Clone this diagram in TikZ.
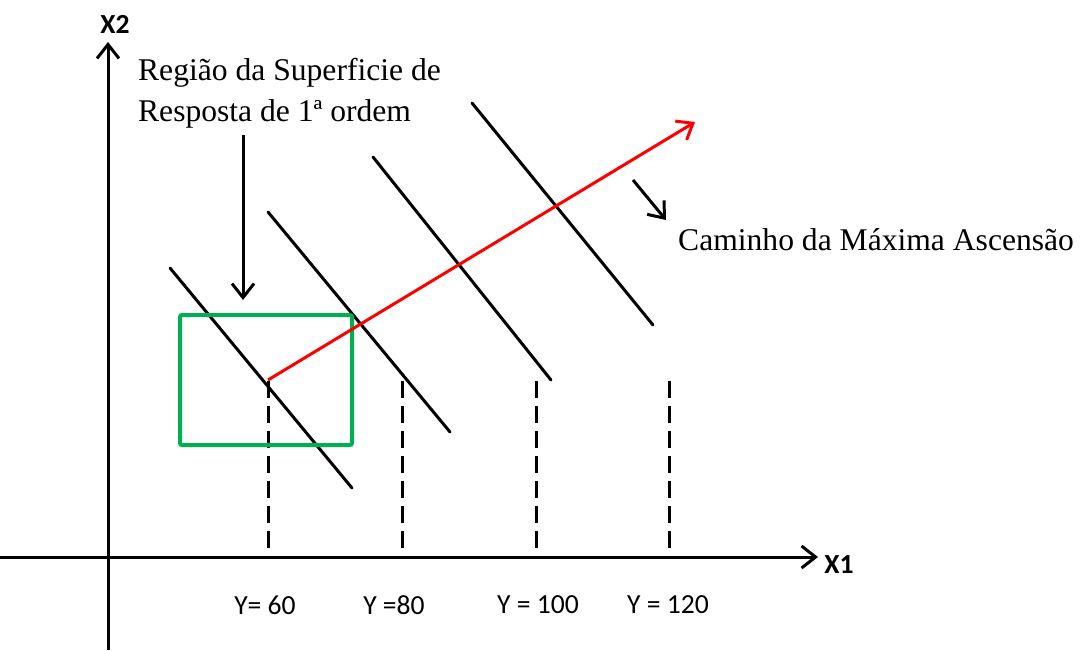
\documentclass[tikz,border=0pt]{standalone}
\usepackage{fontspec}
\setmainfont{Liberation Serif}
\newfontfamily\labelfont{Carlito}
\usetikzlibrary{arrows.meta,positioning}
\definecolor{regiongreen}{RGB}{0,176,80}

\begin{document}
\begin{tikzpicture}[
  x=0.5pt,y=-0.5pt,
  line width=1.5pt,
  tip/.style={-{Straight Barb[length=7pt,width=11pt,line width=1.5pt]}},
  level/.style={line cap=round},
  guide/.style={dash pattern=on 8.5pt off 4pt},
  ylab/.style={font=\labelfont\fontsize{13.8}{15}\selectfont},
  axlab/.style={font=\labelfont\bfseries\fontsize{13.8}{15}\selectfont},
  note/.style={font=\fontsize{15.8}{20.5}\selectfont,align=left}
]
\useasboundingbox (0,0) rectangle (1080,650);

% axes
\coordinate (o1) at (0,557);
\coordinate (e1) at (818,557);
\coordinate (o2) at (108,650);
\coordinate (e2) at (108,42);
\draw[tip] (o1) -- (e1);
\draw[tip] (o2) -- (e2);
\node[axlab] (x1) at (839,565) {X1};
\node[axlab] (x2) at (115,24) {X2};

% level lines
\foreach \xa/\ya/\xb/\yb [count=\i] in {170/268/352/488,268/212/450/432,373/157/551/380,472/103/653/325}{
  \coordinate (a\i) at (\xa,\ya);
  \coordinate (b\i) at (\xb,\yb);
  \draw[level] (a\i) -- (b\i);
}

% dashed guides and response values
\foreach \x [count=\i] in {268,402,536,669}{
  \coordinate (g\i) at (\x,381);
  \coordinate (h\i) at (\x,551);
  \draw[guide] (g\i) -- (h\i);
}
\node[ylab] (y1) at (265,605) {Y= 60};
\node[ylab] (y2) at (394,605) {Y =80};
\node[ylab] (y3) at (538,605) {Y = 100};
\node[ylab] (y4) at (668,605) {Y = 120};

% region of first order model
\draw[regiongreen,line width=2pt,rounded corners=1pt] (180,315) rectangle (352,445);

% steepest ascent path
\coordinate (start) at (268,380);
\coordinate (goal) at (695,122);
\draw[tip,red] (start) -- (goal);

% labels
\node[note,anchor=west] (reg) at (130,93) {Região da Superficie de\\Resposta de 1ª ordem};
\coordinate (regend) at (243,300);
\draw[tip] (243,135) -- (regend);

\node[note,anchor=west] (path) at (670,240) {Caminho da Máxima Ascensão};
\coordinate (pathstart) at (633,180);
\coordinate (pathend) at (666,220);
\draw[tip] (pathstart) -- (pathend);
\end{tikzpicture}
\end{document}
